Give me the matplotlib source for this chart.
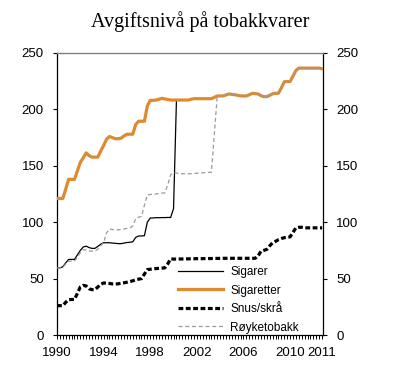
import matplotlib
matplotlib.use("Agg")
import matplotlib.pyplot as plt
import numpy as np

title = "Avgiftsnivå på tobakkvarer"
series_names = ["Sigarer", "Sigaretter", "Snus/skrå", "Røyketobakk"]
xtick_pos = [0, 16, 32, 48, 64, 80, 91]
xtick_labels = ["1990", "1994", "1998", "2002", "2006", "2010", "2011"]
yticks = [0, 50, 100, 150, 200, 250]

sigaretter = [121, 121, 121, 129.5, 138, 138, 138, 145.5, 153, 157,
              161.5, 159, 157.7, 157.7, 157.7, 163, 168, 173.5, 176, 175,
              174, 174, 174.5, 176.5, 178, 178, 178, 186.5, 189.5, 189.5,
              189.5, 203, 208, 208, 208.3, 209, 209.8, 209.3, 208.8, 208.3,
              208.3, 208.3, 208.3, 208.3, 208.3, 208.3, 209, 209.5, 209.5, 209.5,
              209.5, 209.5, 209.5, 209.5, 210.7, 211.9, 211.9, 211.9, 212.8, 213.7,
              213.3, 213, 212.5, 212, 211.9, 211.9, 213, 214.2, 214, 213.7,
              212.2, 211.3, 211.3, 212.5, 213.8, 214.3, 214.3, 219, 224.5, 224.7,
              224.7, 229.5, 234.5, 236.6, 236.6, 236.6, 236.6, 236.6, 236.6, 236.6,
              236.6, 236]

sigarer = [59.5, 59.5, 60.5, 64, 67, 67, 67, 71, 75, 78,
           78.8, 77.5, 76.8, 76.8, 78.5, 80.5, 81.8, 81.8, 81.8, 81.5,
           81.3, 81, 81, 81.5, 82, 82.2, 82.6, 86.5, 87.8, 87.8,
           88, 100, 103.7, 103.8, 104, 104, 104.1, 104.1, 104.2, 104.2,
           112, 208.3, 208.3, 208.3, 208.3, 208.3, 209, 209.5, 209.5, 209.5,
           209.5, 209.5, 209.5, 209.5, 210.7, 211.9, 211.9, 211.9, 212.8, 213.7,
           213.3, 213, 212.5, 212, 211.9, 211.9, 213, 214.2, 214, 213.7,
           212.2, 211.3, 211.3, 212.5, 213.8, 214.3, 214.3, 219, 224.5, 224.7,
           224.7, 229.5, 234.5, 236.6, 236.6, 236.6, 236.6, 236.6, 236.6, 236.6,
           236.6, 236]

snus = [26, 26, 26, 29, 31.3, 31.5, 31.5, 37, 42.6, 44,
        43.5, 41, 40.2, 40.2, 42.5, 45, 46.1, 46, 45.7, 45.3,
        45.2, 45.4, 45.8, 46.3, 46.8, 47.4, 48, 49, 49.5, 50,
        54, 58, 58.3, 58.6, 58.9, 59.1, 59.3, 59.5, 63, 67.5,
        67.3, 67.3, 67.4, 67.4, 67.5, 67.5, 67.6, 67.6, 67.7, 67.7,
        67.7, 67.8, 67.8, 67.8, 67.9, 67.9, 67.9, 68, 68, 68,
        68, 68, 68, 68, 68, 68, 68, 68, 68, 70,
        74.2, 75, 75.9, 79, 81.8, 83, 84.5, 85.5, 86.3, 86.6,
        87, 91, 95, 95.5, 95.5, 95, 95, 95, 95, 95,
        95, 95]

royketobakk = [59.5, 59.5, 60, 63, 65.5, 65.5, 65.5, 69, 73, 75.5,
               75.5, 74.5, 74.4, 74.4, 76, 79, 82, 90.5, 94, 93.5,
               93.2, 93.2, 93.5, 94, 94.5, 95, 96.5, 103, 104.5, 105,
               115, 124.2, 124.6, 124.8, 125, 125.5, 125.8, 126, 133, 142,
               144, 143.6, 143.2, 143, 142.9, 142.9, 143, 143.2, 143.4, 143.6,
               143.8, 144, 144.2, 144.3, 178, 211.9, 211.9, 211.9, 212.8, 213.7,
               213.3, 213, 212.5, 212, 211.9, 211.9, 213, 214.2, 214, 213.7,
               212.2, 211.3, 211.3, 212.5, 213.8, 214.3, 214.3, 219, 224.5, 224.7,
               224.7, 229.5, 234.5, 236.6, 236.6, 236.6, 236.6, 236.6, 236.6, 236.6,
               236.6, 236]

x = np.arange(len(sigaretter))

plt.rcParams['font.family'] = ['Liberation Sans', 'DejaVu Sans']

fig = plt.figure(figsize=(4.0, 3.86), dpi=100)
ax = fig.add_axes([0.1425, 0.1321, 0.665, 0.7306])

orange = '#DF8A2F'
ax.plot(x, sigarer, color='black', lw=0.9, zorder=2, label=series_names[0])
ax.plot(x, sigaretter, color=orange, lw=2.3, zorder=3, label=series_names[1],
        solid_joinstyle='round')
ax.plot(x, snus, color='black', lw=2.3, zorder=4, label=series_names[2],
        dashes=(1.5, 0.8))
ax.plot(x, royketobakk, color='#9a9a9a', lw=0.9, zorder=5, label=series_names[3],
        dashes=(3.2, 2.2))

ax.set_xlim(0, 91.3)
ax.set_ylim(0, 250)
ax.set_yticks(yticks)
ax.set_yticklabels([str(v) for v in yticks])
ax.set_xticks(np.arange(0, 92), minor=True)
ax.set_xticks(xtick_pos)
ax.set_xticklabels(xtick_labels)

ax.tick_params(axis='y', which='both', direction='out', length=3, width=0.8,
               left=True, right=True, labelleft=True, labelright=True,
               labelsize=9.5, pad=6.5)
ax.tick_params(axis='x', which='both', direction='out', length=3, width=0.7,
               labelsize=9.5, pad=5.5)

for s in ['left', 'right', 'bottom']:
    ax.spines[s].set_color('black')
    ax.spines[s].set_linewidth(0.9)
ax.spines['top'].set_color('#7f7f7f')
ax.spines['top'].set_linewidth(1.0)

leg = ax.legend(loc='lower left', bbox_to_anchor=(0.43, -0.02), frameon=False,
                fontsize=8.5, handlelength=3.8, handletextpad=0.6,
                labelspacing=0.55, borderaxespad=0.2)
leg.set_zorder(6)

fig.text(0.5, 0.945, title, ha='center', va='center', fontsize=14.5,
         family=['Liberation Serif', 'DejaVu Serif'])

fig.savefig('out.png', dpi=100)
